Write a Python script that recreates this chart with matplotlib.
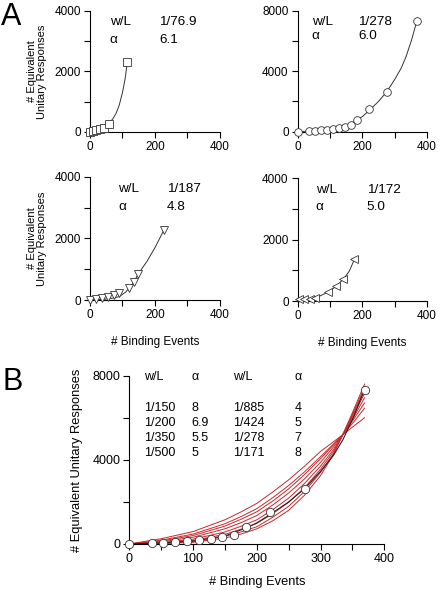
import matplotlib
matplotlib.use("Agg")
import matplotlib.pyplot as plt
from matplotlib.ticker import MultipleLocator

plt.rcParams['font.family'] = ['Liberation Sans', 'DejaVu Sans']

# ---- panel A data ----
a1_x = [0, 10, 20, 30, 43, 58, 115]
a1_y = [0, 30, 50, 80, 110, 260, 2300]
a1_fit_x = [0, 20, 40, 57, 70, 80, 90, 100, 108, 115]
a1_fit_y = [0, 40, 120, 270, 420, 600, 880, 1300, 1750, 2300]

a2_x = [0, 35, 53, 72, 90, 109, 128, 146, 165, 183, 221, 275, 369]
a2_y = [0, 40, 60, 90, 130, 180, 250, 320, 430, 790, 1520, 2620, 7330]

a3_x = [0, 19, 37, 55, 73, 90, 119, 135, 148, 228]
a3_y = [10, 40, 65, 105, 160, 230, 380, 600, 860, 2280]
a3_fit_x = [0, 40, 70, 90, 110, 130, 150, 175, 200, 228]
a3_fit_y = [0, 20, 60, 110, 260, 500, 870, 1250, 1700, 2280]

a4_x = [5, 20, 37, 55, 95, 120, 140, 175]
a4_y = [60, 70, 80, 110, 290, 480, 720, 1370]
a4_fit_x = [0, 30, 60, 90, 120, 145, 160, 176]
a4_fit_y = [0, 40, 120, 270, 480, 760, 980, 1370]

# black fit through the circles (A2 and B)
fit_x = [0, 50, 100, 150, 183, 200, 220, 250, 275, 300, 320, 335, 352, 369]
fit_y = [0, 50, 140, 380, 760, 1000, 1380, 2000, 2630, 3450, 4200, 4950, 6050, 7350]

# red alternative fits in B
red_x = [0, 50, 100, 150, 175, 200, 225, 250, 275, 300, 320, 335, 352, 369]
red_curves = [
    [0, 250, 590, 1150, 1520, 1930, 2470, 3050, 3700, 4400, 4850, 5200, 5600, 6000],
    [0, 180, 470, 960, 1300, 1680, 2200, 2780, 3430, 4150, 4740, 5200, 5800, 6450],
    [0, 140, 400, 850, 1170, 1530, 2040, 2620, 3300, 4050, 4700, 5200, 5930, 6700],
    [0, 100, 320, 720, 1010, 1350, 1850, 2420, 3100, 3880, 4600, 5200, 6030, 6950],
    [0, 60, 230, 570, 840, 1150, 1630, 2180, 2880, 3700, 4480, 5200, 6150, 7150],
    [0, 40, 170, 460, 700, 980, 1440, 1980, 2680, 3550, 4380, 5200, 6230, 7300],
    [0, 25, 120, 360, 570, 820, 1270, 1790, 2500, 3400, 4280, 5200, 6300, 7450],
    [0, 15, 80, 280, 470, 720, 1100, 1600, 2320, 3250, 4250, 5200, 6380, 7600],
]

a_params = [("1/76.9", "6.1"), ("1/278", "6.0"), ("1/187", "4.8"), ("1/172", "5.0")]
b_col1 = ["1/150", "1/200", "1/350", "1/500"]
b_col2 = ["8", "6.9", "5.5", "5"]
b_col3 = ["1/885", "1/424", "1/278", "1/171"]
b_col4 = ["4", "5", "7", "8"]

fig = plt.figure(figsize=(4.4, 5.9), dpi=100)


def style(ax, ymax, ymaj, xmaj=200, xmin=100, fs=8.5):
    ax.set_xlim(0, 400)
    ax.set_ylim(0, ymax)
    ax.spines['top'].set_visible(False)
    ax.spines['right'].set_visible(False)
    for s in ['left', 'bottom']:
        ax.spines[s].set_linewidth(0.8)
    ax.xaxis.set_major_locator(MultipleLocator(xmaj))
    ax.xaxis.set_minor_locator(MultipleLocator(xmin))
    ax.yaxis.set_major_locator(MultipleLocator(ymaj))
    ax.yaxis.set_minor_locator(MultipleLocator(ymaj / 2))
    ax.tick_params(which='both', direction='out', length=4, width=0.8,
                   labelsize=fs, pad=2.5)


mk = dict(mfc='white', mec='#333333', mew=0.6, ms=5.5, ls='none', clip_on=False, zorder=3)
ln = dict(color='#333333', lw=0.7, clip_on=False)

ax1 = fig.add_axes([0.2045, 0.7768, 0.2955, 0.2046])
ax1.plot(a1_fit_x, a1_fit_y, **ln)
ax1.plot(a1_x, a1_y, marker='s', **mk)
style(ax1, 4000, 2000)

ax2 = fig.add_axes([0.6766, 0.7768, 0.2939, 0.2051])
ax2.plot(fit_x, fit_y, **ln)
ax2.plot(a2_x, a2_y, marker='o', **mk)
style(ax2, 8000, 4000)

ax3 = fig.add_axes([0.2045, 0.4915, 0.2955, 0.209])
ax3.plot(a3_fit_x, a3_fit_y, **ln)
ax3.plot(a3_x, a3_y, marker='v', **mk)
style(ax3, 4000, 2000)

ax4 = fig.add_axes([0.6766, 0.4898, 0.2939, 0.2085])
ax4.plot(a4_fit_x, a4_fit_y, **ln)
ax4.plot(a4_x, a4_y, marker='<', **mk)
style(ax4, 4000, 2000)

# parameter annotations in A
pos = [(ax1, 61, 212, 3640, 3040), (ax2, 43, 188, 7250, 6330),
       (ax3, 86, 237, 3590, 3030), (ax4, 56, 213, 3610, 3070)]
for (ax, xa, xb, y1, y2), (wl, al) in zip(pos, a_params):
    ax.text(xa, y1, "w/L", fontsize=9.7, va='center', ha='left')
    ax.text(xb, y1, wl, fontsize=9.7, va='center', ha='left')
    ax.text(xa, y2, "α", fontsize=9.7, va='center', ha='left')
    ax.text(xb, y2, al, fontsize=9.7, va='center', ha='left')

for ax in (ax1, ax3):
    ax.set_ylabel("# Equivalent\nUnitary Responses", fontsize=8, linespacing=1.05)
    ax.yaxis.set_label_coords(-0.33, 0.5)
for ax in (ax3, ax4):
    ax.set_xlabel("# Binding Events", fontsize=8.5)
    ax.xaxis.set_label_coords(0.5, -0.295)

# ---- panel B ----
axb = fig.add_axes([0.2939, 0.078, 0.5795, 0.2853])
for ys in red_curves:
    axb.plot(red_x, ys, color='#c8282c', lw=0.7, clip_on=False)
axb.plot(fit_x, fit_y, color='#222222', lw=0.8, clip_on=False)
axb.plot(a2_x, a2_y, marker='o', **dict(mk, ms=6))
style(axb, 8000, 4000, xmaj=100, xmin=50, fs=9)
axb.set_ylabel("# Equivalent Unitary Responses", fontsize=9.3)
axb.yaxis.set_label_coords(-0.18, 0.5)
axb.set_xlabel("# Binding Events", fontsize=9.3)
axb.xaxis.set_label_coords(0.5, -0.19)

row_y = [6478, 5766, 5053, 4340]
cols = [(23, b_col1), (98, b_col2), (162, b_col3), (259, b_col4)]
for cx, head in zip([23, 98, 162, 259], ["w/L", "α", "w/L", "α"]):
    axb.text(cx, 7923, head, fontsize=9, va='center', ha='left')
for cx, vals in cols:
    for yy, v in zip(row_y, vals):
        axb.text(cx, yy, v, fontsize=9, va='center', ha='left')

fig.text(11 / 440, 1 - 17 / 590, "A", fontsize=22, ha='center', va='center')
fig.text(13 / 440, 1 - 382 / 590, "B", fontsize=22, ha='center', va='center')

fig.savefig("out.png", dpi=100)
